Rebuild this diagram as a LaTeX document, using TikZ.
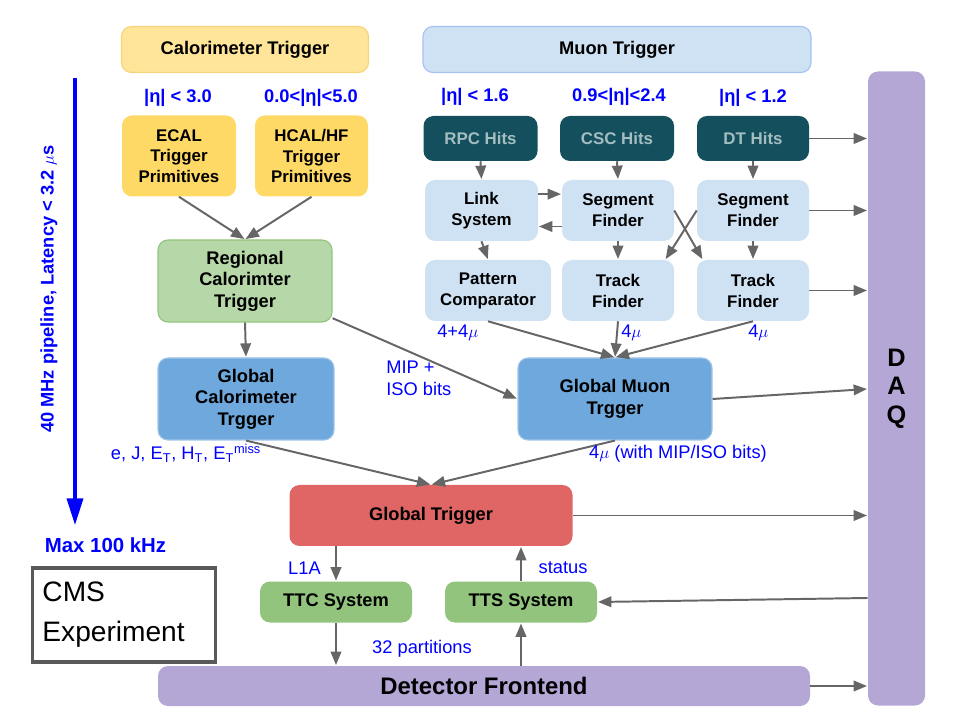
\documentclass[tikz,border=0pt]{standalone}
\usepackage{fontspec}
\setmainfont{Liberation Sans}
\usetikzlibrary{arrows.meta,calc}

\definecolor{calhead}{HTML}{FFE599}
\definecolor{calline}{HTML}{F6D47A}
\definecolor{calprim}{HTML}{FFD966}
\definecolor{muonlight}{HTML}{CFE2F3}
\definecolor{muonline}{HTML}{A4C2F4}
\definecolor{hitsbg}{HTML}{134F5C}
\definecolor{hitstxt}{HTML}{A3BDC1}
\definecolor{rctgreen}{HTML}{B6D7A8}
\definecolor{rctline}{HTML}{93C47D}
\definecolor{globblue}{HTML}{6FA8DC}
\definecolor{globline}{HTML}{9FC5E8}
\definecolor{gtred}{HTML}{E06666}
\definecolor{ttgreen}{HTML}{93C47D}
\definecolor{daqpurple}{HTML}{B4A7D6}
\definecolor{arrowgray}{HTML}{666666}
\definecolor{labelblue}{HTML}{0000FF}
\definecolor{cmsgray}{HTML}{595959}

\begin{document}
\begin{tikzpicture}[x=0.025cm,y=-0.025cm,shorten >=0.5pt,>={Triangle[length=9.5pt,width=7.5pt]}]
		\tikzset{wh/.style 2 args={minimum width=#1*0.025cm,minimum height=#2*0.025cm}}
		\tikzstyle{box}=[rounded corners=0.25cm,align=center,inner sep=0pt,font=\fontsize{13}{15.4}\selectfont\bfseries]
		\tikzstyle{pbox}=[box,fill=calprim,font=\fontsize{12}{14.7}\selectfont\bfseries]
		\tikzstyle{hits}=[box,fill=hitsbg,text=hitstxt,font=\fontsize{12}{14.7}\selectfont\bfseries]
		\tikzstyle{mbox}=[box,fill=muonlight,font=\fontsize{12}{14.9}\selectfont\bfseries]
		\tikzstyle{gbox}=[box,fill=globblue,draw=globline,line width=0.8pt]
		\tikzstyle{tbox}=[box,fill=ttgreen]
		\tikzstyle{link}=[->,draw=arrowgray,line width=1.4pt]
		\tikzstyle{eta}=[text=labelblue,inner sep=0pt,font=\fontsize{13}{15}\selectfont\bfseries]
		\tikzstyle{note}=[text=labelblue,inner sep=0pt,font=\fontsize{13}{15.6}\selectfont]

		\useasboundingbox (0,0) rectangle (960,720);

		% calorimeter side
		\node[box,fill=calhead,draw=calline,line width=0.8pt,wh={247}{46}](calhdr) at (245,49.5){Calorimeter Trigger};
		\node[eta](etaecal) at (178,98){|η| < 3.0};
		\node[eta](etahcal) at (311,98){0.0<|η|<5.0};
		\node[pbox,wh={114}{81}](ecal) at (179,156){ECAL\\Trigger\\Primitives};
		\node[pbox,wh={113}{81}](hcal) at (311.5,156){HCAL/HF\\Trigger\\Primitives};
		\node[box,fill=rctgreen,draw=rctline,line width=0.8pt,wh={174}{82}](rct) at (245,281){Regional\\Calorimter\\Trigger};
		\node[gbox,wh={176}{82}](gct) at (246,399){Global\\Calorimeter\\Trgger};

		% muon side
		\node[box,fill=muonlight,draw=muonline,line width=0.8pt,wh={388}{46}](muonhdr) at (617,49.5){Muon Trigger};
		\node[eta](etarpc) at (475,97){|η| < 1.6};
		\node[eta](etacsc) at (619,97){0.9<|η|<2.4};
		\node[eta](etadt) at (753,98){|η| < 1.2};
		\node[hits,wh={114}{45}](rpc) at (480.5,138.5){RPC Hits};
		\node[hits,wh={114}{45}](csc) at (617,138.5){CSC Hits};
		\node[hits,wh={112}{45}](dt) at (753,138.5){DT Hits};
		\node[mbox,wh={113}{61}](linksys) at (481.5,210.5){Link\\System};
		\node[mbox,wh={112}{61}](segf1) at (618,210.5){Segment\\Finder};
		\node[mbox,wh={112}{61}](segf2) at (753,210.5){Segment\\Finder};
		\node[mbox,wh={126}{61}](pattern) at (488,290.5){Pattern\\Comparator};
		\node[mbox,wh={112}{61}](trackf1) at (618,290.5){Track\\Finder};
		\node[mbox,wh={112}{61}](trackf2) at (753,290.5){Track\\Finder};
		\node[gbox,wh={194}{82}](gmt) at (615,399){Global Muon\\Trgger};

		% global trigger and below
		\node[box,fill=gtred,wh={283}{61}](gt) at (431,515.5){Global Trigger};
		\node[tbox,wh={152}{41}](ttc) at (336,602){TTC System};
		\node[tbox,wh={152}{41}](tts) at (521,602){TTS System};
		\node[box,fill=daqpurple,font=\fontsize{17}{20}\selectfont\bfseries,wh={652}{40}](frontend) at (484,686){Detector Frontend};
		\node[box,fill=daqpurple,font=\fontsize{18}{20.3}\selectfont\bfseries,wh={57}{634}](daq) at (896.5,388.5){D\\A\\Q};

		\node[draw=cmsgray,line width=2.2pt,inner xsep=0.25cm,inner ysep=0pt,text width=4.075cm,align=left,wh={183}{94},font=\fontsize{20}{28.5}\selectfont](cms) at (124,615){CMS\\Experiment};

		% pipeline arrow
		\coordinate(pipetop) at (75,78);
		\coordinate(pipebot) at (75,525);
		\draw[-{Triangle[length=19pt,width=11.5pt]},draw=labelblue,fill=labelblue,line width=2.3pt,shorten >=0pt] (pipetop) -- (pipebot);
		\node[eta,rotate=90](pipe) at (49,289){40 MHz pipeline, Latency < 3.2 $\mu$s};
		\node[eta,font=\fontsize{14.5}{16}\selectfont\bfseries](maxrate) at (105.5,545){Max 100 kHz};

		% calorimeter connections
		\draw[link] (ecal.south) -- (rct.north);
		\draw[link] (hcal.south) -- (rct.north);
		\draw[link] (rct.south) -- (gct.north);
		\draw[link] (rct.-23) -- (gmt.west);
		\draw[link] (gct.south) -- (gt.north);
		\draw[link] (gmt.south) -- (gt.north);

		% muon connections
		\draw[link] (rpc.south) -- (linksys.north);
		\draw[link] (csc.south) -- (segf1.north);
		\draw[link] (dt.south) -- (segf2.north);
		\draw[link] ([yshift=0.41cm]linksys.east) -- ([yshift=0.41cm]segf1.west);
		\draw[link] ([yshift=-0.4cm]segf1.west) -- ([yshift=-0.4cm]linksys.east);
		\draw[link] (linksys.south) -- (pattern.north);
		\draw[link] (segf1.south) -- (trackf1.north);
		\draw[link] (segf2.south) -- (trackf2.north);
		\draw[link] (segf1.east) -- ([xshift=0.15cm]trackf2.north west);
		\draw[link] (segf2.west) -- ([xshift=-0.225cm]trackf1.north east);
		\draw[link] (pattern.south) -- (gmt.north);
		\draw[link] (trackf1.south) -- (gmt.north);
		\draw[link] (trackf2.south) -- (gmt.north);

		% to and from DAQ
		\draw[link] (dt.east) -- (dt.east -| daq.west);
		\draw[link] (segf2.east) -- (segf2.east -| daq.west);
		\draw[link] (trackf2.east) -- (trackf2.east -| daq.west);
		\draw[link] (gmt.east) -- ($(gmt.east -| daq.west)+(0,-10)$);
		\draw[link] (gt.east) -- (gt.east -| daq.west);
		\draw[link] ($(tts.east -| daq.west)+(0,-4)$) -- (tts.east);
		\draw[link] (frontend.east) -- (frontend.east -| daq.west);

		% timing and throttling
		\draw[link] (ttc.north |- gt.south) -- (ttc.north);
		\draw[link] (tts.north) -- (tts.north |- gt.south);
		\draw[link] (ttc.south) -- (ttc.south |- frontend.north);
		\draw[link] (tts.south |- frontend.north) -- (tts.south);

		% labels
		\node[note,anchor=west,align=left](mipiso) at (386,378){MIP +\\ISO bits};
		\node[note](calout) at (186,453){e, J, E\textsubscript{T}, H\textsubscript{T}, E\textsubscript{T}\textsuperscript{miss}};
		\node[note](muout) at (678,454){4$\mu$ (with MIP/ISO bits)};
		\node[note,anchor=west](pcout) at (437,333){4+4$\mu$};
		\node[note,anchor=west](tf1out) at (621,333){4$\mu$};
		\node[note,anchor=west](tf2out) at (748,333){4$\mu$};
		\node[note](l1a) at (304.5,568){L1A};
		\node[note](status) at (563,568){status};
		\node[note](parts) at (422,649){32 partitions};
	\end{tikzpicture}
\end{document}
